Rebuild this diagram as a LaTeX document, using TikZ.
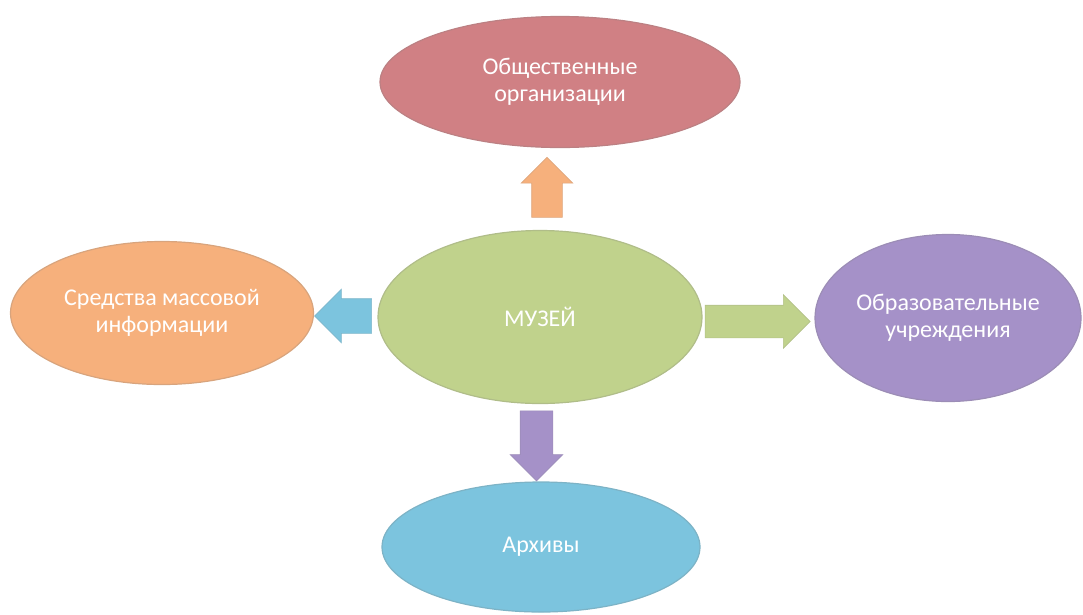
\documentclass[tikz,border=0pt]{standalone}
\usepackage{fontspec}
\setmainfont{Carlito}
\usetikzlibrary{calc,shapes.geometric,shapes.arrows}

\definecolor{rosered}{RGB}{208,128,132}
\definecolor{peach}{RGB}{246,176,124}
\definecolor{leaf}{RGB}{192,210,140}
\definecolor{lilac}{RGB}{165,145,200}
\definecolor{sky}{RGB}{124,196,222}

\begin{document}
\begin{tikzpicture}[x=1pt,y=-1pt,
    blob/.style={ellipse,inner sep=0pt,text=white,align=center,
                 font=\fontsize{24}{27}\selectfont,
                 fill=#1,draw=#1!75!gray,line width=1.2pt},
    blockarrow/.style={single arrow,fill=#1,draw=#1!80!gray,
                       line width=0.6pt,single arrow tip angle=90}
   ]
    \useasboundingbox (0,0) rectangle (1083,614);
    % the ellipses
    \node[blob=leaf,minimum width=324pt,minimum height=173pt] (muzej) at (540,317) {МУЗЕЙ};
    \node[blob=rosered,minimum width=360pt,minimum height=131pt] (obsh) at (560,82)
        {Общественные\\организации};
    \node[blob=peach,minimum width=303pt,minimum height=143pt] (smi) at (162,313)
        {Средства массовой\\информации};
    \node[blob=lilac,minimum width=266pt,minimum height=167pt] (obraz) at (948,318)
        {Образовательные\\учреждения};
    \node[blob=sky,minimum width=318pt,minimum height=130pt] (arhiv) at (541,547) {Архивы};
    % the arrows
    \node[blockarrow=peach,shape border rotate=90,minimum height=60pt,inner sep=15pt,
          single arrow head extend=10.5pt] (toobsh)
        at ($(muzej.north)!0.5!(obsh.south)+(-3,6)$) {};
    \node[blockarrow=sky,shape border rotate=180,minimum height=57pt,inner sep=17pt,
          single arrow head extend=9.5pt] (tosmi)
        at ($(muzej.west)!0.5!(smi.east)+(6,1)$) {};
    \node[blockarrow=leaf,shape border rotate=0,minimum height=105pt,inner sep=16pt,
          single arrow head extend=10.5pt] (toobraz)
        at ($(muzej.east)!0.5!(obraz.west)+(-9,4)$) {};
    \node[blockarrow=lilac,shape border rotate=270,minimum height=70pt,inner sep=16pt,
          single arrow head extend=10pt] (toarhiv)
        at ($(muzej.south)!0.5!(arhiv.north)+(-4,-5)$) {};
\end{tikzpicture}
\end{document}
